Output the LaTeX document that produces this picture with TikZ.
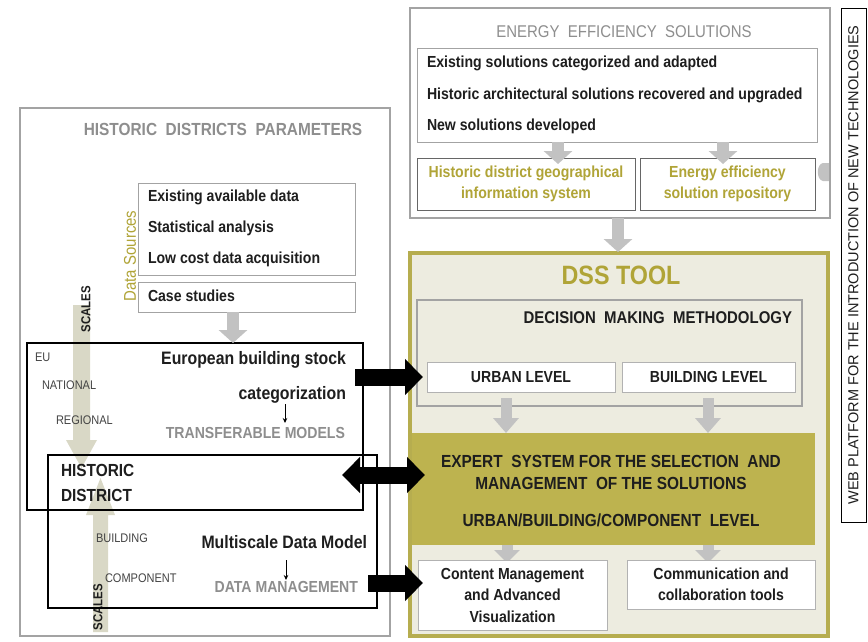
\documentclass[tikz,border=0pt]{standalone}
\usepackage{fontspec}
\setmainfont{Liberation Sans}[FakeStretch=0.88]
\newfontfamily\widefont{Liberation Sans}
\usetikzlibrary{arrows.meta}
\definecolor{txtolive}{HTML}{B0A437}
\definecolor{dssfill}{HTML}{EDECE0}
\definecolor{dssborder}{HTML}{B6AD4F}
\definecolor{expfill}{HTML}{BDB34F}
\definecolor{boxgray}{HTML}{A3A3A3}
\definecolor{txtgray}{HTML}{8E8E8E}
\definecolor{arrgray}{HTML}{C2C2C2}
\definecolor{scalefill}{HTML}{D9D8C6}
\definecolor{darktxt}{HTML}{1E1E1E}
\definecolor{smalltxt}{HTML}{444444}
\tikzset{
  sz/.style 2 args={anchor=north west, minimum width=#1pt, minimum height=#2pt, inner sep=0pt, outer sep=0pt},
  panel/.style={draw=boxgray, line width=1.6pt, fill=white},
  thinbox/.style={draw=boxgray, line width=1pt, fill=white},
  darkbox/.style={draw=black, line width=2.3pt},
  txt/.style={inner sep=0pt, outer sep=0pt, text=darktxt},
  itemtxt/.style={txt, anchor=west, font=\fontsize{16}{20}\selectfont\bfseries},
  smalllbl/.style={txt, anchor=west, text=smalltxt, font=\fontsize{12.5}{15}\selectfont},
  graytitle/.style={txt, text=txtgray, font=\fontsize{16}{20}\selectfont\bfseries},
  bigblack/.style={txt, font=\fontsize{18}{22}\selectfont\bfseries},
  olivetxt/.style={txt, text=txtolive, align=center, font=\fontsize{16}{21}\selectfont\bfseries},
  captxt/.style={txt, font=\fontsize{16}{20}\selectfont\bfseries},
  grayarr/.style={draw=arrgray, line width=12pt, -{Triangle[length=13pt,width=28pt]}},
  blackarr/.style={draw=black, line width=17pt, -{Triangle[length=18pt,width=35pt]}},
  blackdbl/.style={draw=black, line width=17pt, {Triangle[length=18pt,width=35pt]}-{Triangle[length=18pt,width=35pt]}},
  tinyarr/.style={draw=black, line width=0.8pt, -{Stealth[length=5pt,width=4.5pt]}},
}
\begin{document}
\begin{tikzpicture}[x=1pt,y=-1pt]
\useasboundingbox (0,0) rectangle (868,641);
\fill[white] (0,0) rectangle (868,641);

% ---------- left panel ----------
\node[panel, sz={370}{528}] (hdp) at (20,108) {};
\node[graytitle, font=\fontsize{17.5}{20}\selectfont\bfseries] (hdptitle) at (223,129) {HISTORIC\ \ DISTRICTS\ \ PARAMETERS};

\node[thinbox, sz={217}{92}] (ds) at (138,183) {};
\node[thinbox, sz={217}{30}] (cs) at (138,282) {};
\node[itemtxt] (ds1) at (148,197) {Existing available data};
\node[itemtxt] (ds2) at (148,228) {Statistical analysis};
\node[itemtxt] (ds3) at (148,259) {Low cost data acquisition};
\node[itemtxt] (cs1) at (148,296) {Case studies};
\node[txt, text=txtolive, rotate=90, font=\fontsize{17}{20}\selectfont] (dsl) at (130,256) {Data Sources};

% scale arrows
\fill[scalefill] (73,305) -- (90,305) -- (90,440) -- (97,440) -- (81.5,468) -- (66,440) -- (73,440) -- cycle;
\fill[scalefill] (93,632) -- (108,632) -- (108,515) -- (115,515) -- (100.5,478) -- (86,515) -- (93,515) -- cycle;
\node[txt, rotate=90, font=\fontsize{13}{15}\selectfont\bfseries] (sc1) at (86,309) {SCALES};
\node[txt, rotate=90, font=\fontsize{13}{15}\selectfont\bfseries] (sc2) at (98,607) {SCALES};

% boxes
\node[darkbox, sz={336}{167}] (box1) at (27,343) {};
\node[darkbox, sz={329}{153}] (box2) at (48,455) {};

\draw[grayarr] ([xshift=-13.5pt]cs.south) -- ([xshift=-13.5pt]cs.south |- box1.north);

\node[smalllbl] (eu) at (35,357) {EU};
\node[smalllbl] (nat) at (42,385) {NATIONAL};
\node[smalllbl] (reg) at (56,420) {REGIONAL};
\node[bigblack, anchor=east] (ebs) at (346,360) {European building stock};
\node[bigblack, anchor=east] (categ) at (346,395) {categorization};
\node[graytitle, anchor=east] (transf) at (345,433) {TRANSFERABLE MODELS};
\draw[tinyarr] (285,404) -- (285,423);

\node[txt, anchor=west, font=\fontsize{17.5}{20}\selectfont\bfseries] (hd1) at (61,470) {HISTORIC};
\node[txt, anchor=west, font=\fontsize{17.5}{20}\selectfont\bfseries] (hd2) at (61,495) {DISTRICT};
\node[smalllbl] (bld) at (96,538) {BUILDING};
\node[smalllbl] (comp) at (105,578) {COMPONENT};
\node[bigblack, anchor=east] (mdm) at (367,542) {Multiscale Data Model};
\draw[tinyarr] (286,560) -- (286,580);
\node[graytitle, anchor=east] (dm) at (358,587) {DATA MANAGEMENT};

% ---------- energy efficiency solutions ----------
\node[panel, sz={420}{210}] (ees) at (410,8) {};
\node[txt, text=txtgray, font=\fontsize{17}{20}\selectfont] (eestitle) at (624,32) {ENERGY\ \ EFFICIENCY\ \ SOLUTIONS};
\node[thinbox, sz={400}{94}] (eesin) at (417,48) {};
\node[itemtxt] (ee1) at (427,63) {Existing solutions categorized and adapted};
\node[itemtxt] (ee2) at (427,95) {Historic architectural solutions recovered and upgraded};
\node[itemtxt] (ee3) at (427,126) {New solutions developed};
\node[thinbox, draw=gray!80!black, sz={218}{52}] (gis) at (417,158) {};
\node[thinbox, draw=gray!80!black, sz={175}{52}] (rep) at (640,158) {};
\node[olivetxt] (gist) at (gis.center) {Historic district geographical\\information system};
\node[olivetxt] (rept) at (rep.center) {Energy efficiency\\solution repository};
\draw[grayarr] (558,142) -- (558,164);
\draw[grayarr] (723,142) -- (723,164);
\fill[arrgray] (830,163) -- (823,163) to[out=190,in=170] (823,181) -- (830,181) -- cycle;
\draw[panel, fill=none] (ees.north west) rectangle (ees.south east);

% ---------- DSS tool ----------
\node[draw=dssborder, fill=dssfill, line width=4pt, sz={418.5}{383}] (dss) at (409.5,253) {};
\draw[grayarr] (618,218) -- (618,252);
\node[txt, text=txtolive, font=\fontsize{26.5}{28}\selectfont\bfseries] (dsst) at (621,275) {DSS TOOL};
\node[draw=boxgray, line width=2pt, fill=dssfill, sz={385}{106}] (dmm) at (417,300) {};
\node[txt, anchor=east, font=\fontsize{17}{20}\selectfont\bfseries] (dmmt) at (792,318) {DECISION\ \ MAKING\ \ METHODOLOGY};
\node[thinbox, draw=gray!60, sz={188}{30}] (urban) at (427,362) {};
\node[thinbox, draw=gray!60, sz={173}{30}] (bldg) at (622,362) {};
\node[captxt] (urbant) at (urban.center) {URBAN LEVEL};
\node[captxt] (bldgt) at (bldg.center) {BUILDING LEVEL};

\node[fill=expfill, sz={403}{112}] (expert) at (412,433) {};
\draw[draw=arrgray, line width=11pt, -{Triangle[length=15pt,width=25pt]}] (506,398) -- (506,433);
\draw[draw=arrgray, line width=11pt, -{Triangle[length=15pt,width=25pt]}] (708,398) -- (708,433);
\node[txt, font=\fontsize{17.5}{20}\selectfont\bfseries] (ex1) at (611,461) {EXPERT\ \ SYSTEM FOR THE SELECTION\ \ AND};
\node[txt, font=\fontsize{17.5}{20}\selectfont\bfseries] (ex2) at (611,483) {MANAGEMENT\ \ OF THE SOLUTIONS};
\node[txt, font=\fontsize{17.5}{20}\selectfont\bfseries] (ex3) at (611,520) {URBAN/BUILDING/COMPONENT\ \ LEVEL};

\draw[draw=arrgray, line width=11pt, -{Triangle[length=13pt,width=25pt]}] (507,545) -- (507,563);
\draw[draw=arrgray, line width=11pt, -{Triangle[length=13pt,width=25pt]}] (708,545) -- (708,563);
\node[thinbox, draw=gray!60, sz={189}{70}] (content) at (418,560) {};
\node[thinbox, draw=gray!60, sz={188}{49}] (comm) at (627,560) {};
\node[txt, align=center, font=\fontsize{16}{21.5}\selectfont\bfseries] (contentt) at (content.center) {Content Management\\and Advanced\\Visualization};
\node[txt, align=center, font=\fontsize{16}{21.5}\selectfont\bfseries] (commt) at (comm.center) {Communication and\\collaboration tools};

% ---------- web platform ----------
\node[draw=black, line width=1pt, sz={25}{514}] (web) at (841,8) {};
\node[txt, rotate=90, font=\widefont\fontsize{14.5}{17}\selectfont] (webt) at (web.center) {WEB PLATFORM FOR THE INTRODUCTION OF NEW TECHNOLOGIES};

% ---------- black arrows ----------
\coordinate (a1s) at ([xshift=-8pt]box1.east |- urban.west);
\draw[blackarr] (a1s) -- ([xshift=-4pt]urban.west);
\coordinate (a2s) at (342,475);
\draw[blackdbl] (a2s) -- ([xshift=13pt]a2s -| expert.west);
\coordinate (a3s) at (368,583);
\draw[blackarr] (a3s) -- ([xshift=5pt]a3s -| content.west);
\end{tikzpicture}
\end{document}
